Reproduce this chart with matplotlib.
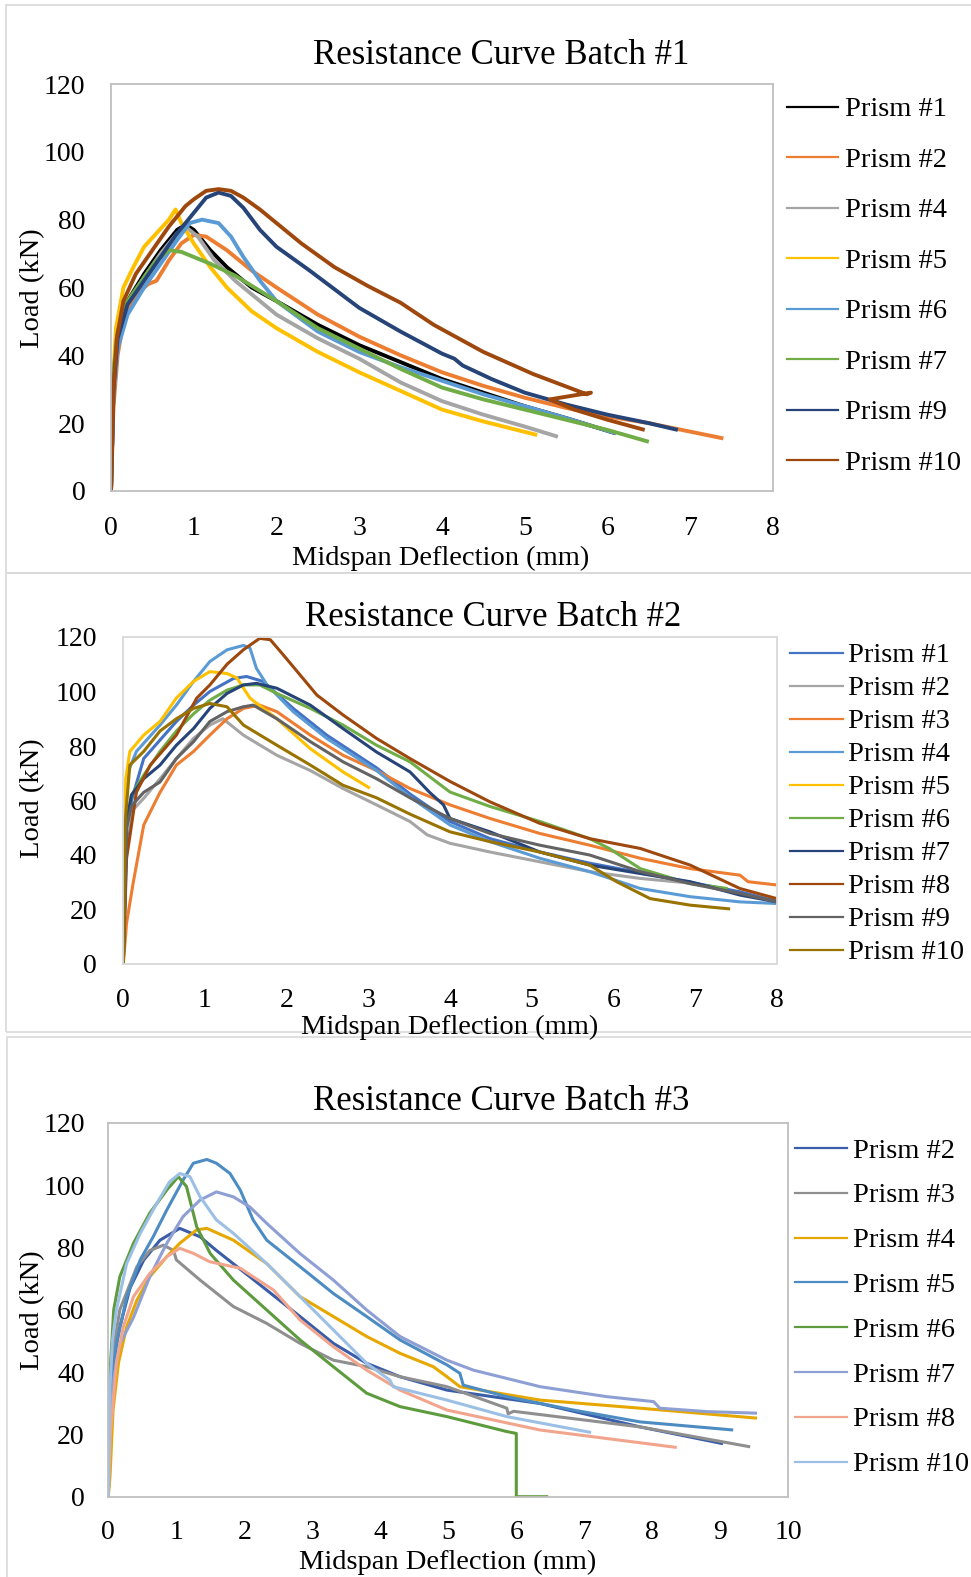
import matplotlib
matplotlib.use("Agg")
import matplotlib.pyplot as plt
from matplotlib.lines import Line2D
from matplotlib.patches import Rectangle

plt.rcParams['font.family'] = ['Liberation Serif', 'DejaVu Serif']

W, H = 971, 1577

# ---------------- Batch #1 ----------------
b1_labels = ["Prism #1", "Prism #2", "Prism #4", "Prism #5", "Prism #6", "Prism #7", "Prism #9", "Prism #10"]
b1_colors = ["#000000", "#ED7D31", "#A5A5A5", "#FFC000", "#5B9BD5", "#70AD47", "#264478", "#9E480E"]
b1_x = [
    [0, 0.03, 0.08, 0.2, 0.4, 0.6, 0.8, 0.9, 1.0, 1.2, 1.4, 1.7, 2.0, 2.5, 3.0, 3.5, 4.0, 4.5, 5.0, 5.5, 6.1],
    [0, 0.03, 0.08, 0.15, 0.3, 0.45, 0.55, 0.7, 0.85, 1.0, 1.15, 1.4, 1.7, 2.0, 2.5, 3.0, 3.5, 4.0, 4.5, 5.0, 5.5, 6.0, 6.5, 7.0, 7.4],
    [0, 0.03, 0.08, 0.2, 0.4, 0.6, 0.8, 0.92, 1.05, 1.25, 1.5, 2.0, 2.5, 3.0, 3.5, 4.0, 4.5, 5.0, 5.4],
    [0, 0.02, 0.06, 0.15, 0.27, 0.4, 0.55, 0.7, 0.78, 0.85, 1.0, 1.2, 1.4, 1.7, 2.0, 2.5, 3.0, 3.5, 4.0, 4.5, 5.15],
    [0, 0.03, 0.08, 0.2, 0.4, 0.6, 0.8, 0.95, 1.1, 1.3, 1.45, 1.6, 1.8, 2.0, 2.5, 3.0, 3.5, 4.0, 4.5, 5.0, 5.5, 6.1],
    [0, 0.03, 0.08, 0.2, 0.4, 0.55, 0.7, 0.85, 1.0, 1.2, 1.5, 2.0, 2.5, 3.0, 3.5, 4.0, 4.5, 5.0, 5.5, 6.0, 6.5],
    [0, 0.03, 0.08, 0.2, 0.4, 0.6, 0.8, 1.0, 1.15, 1.3, 1.45, 1.6, 1.8, 2.0, 2.4, 2.7, 3.0, 3.5, 4.0, 4.15, 4.25, 4.6, 5.0, 5.5, 6.0, 6.5, 6.85],
    [0, 0.03, 0.07, 0.15, 0.3, 0.5, 0.7, 0.9, 1.0, 1.15, 1.3, 1.45, 1.6, 1.8, 2.0, 2.3, 2.7, 3.1, 3.5, 3.9, 4.5, 5.1, 5.75, 5.8, 5.3, 5.6, 6.0, 6.45],
]
b1_y = [
    [0, 30, 45, 56, 64, 71, 77, 78.5, 77, 71, 66, 60, 56, 49, 43, 38, 33, 29, 25, 21.5, 17],
    [0, 25, 40, 50, 58, 61, 62, 68, 73, 75.5, 75, 71, 65, 60, 52, 45.5, 40, 35, 31, 27.5, 24.5, 22, 20, 17.5, 15.5],
    [0, 30, 45, 55, 63, 70, 76, 77.5, 75, 68, 62, 52, 45, 39, 32, 26.5, 22.5, 19, 16],
    [0, 30, 48, 60, 66, 72, 76, 80, 83, 79, 73, 66, 60, 53, 48, 41, 35, 29.5, 24, 20.5, 16.5],
    [0, 28, 42, 52, 60, 67, 74, 79, 80, 79, 75, 69, 62, 56, 47, 41, 36.5, 32.5, 28.5, 25, 21.5, 17],
    [0, 35, 47, 56, 63, 68, 71, 70.5, 69, 67, 63.5, 56, 48, 42, 36, 30.5, 27, 24, 21, 18, 14.5],
    [0, 30, 45, 55, 62, 69, 76, 82, 86.5, 88, 87, 83.5, 77, 72, 65, 59.5, 54, 47, 40.5, 39, 37, 33, 29, 25.5, 22.5, 20, 18],
    [0, 30, 45, 56, 64, 71, 78, 84, 86, 88.5, 89, 88.5, 86.5, 83, 79, 73, 66, 60.5, 55.5, 49, 41, 34.5, 28.5, 29, 27, 24, 21, 18],
]

# ---------------- Batch #2 ----------------
b2_labels = ["Prism #1", "Prism #2", "Prism #3", "Prism #4", "Prism #5", "Prism #6", "Prism #7", "Prism #8", "Prism #9", "Prism #10"]
b2_colors = ["#4472C4", "#A5A5A5", "#ED7D31", "#5B9BD5", "#FFC000", "#70AD47", "#264478", "#9E480E", "#636363", "#997300"]
b2_x = [
    [0, 0.04, 0.1, 0.25, 0.65, 0.86, 1.06, 1.35, 1.51, 1.71, 2.08, 2.49, 3.1, 3.51, 4.0, 4.49, 5.1, 5.71, 6.33, 6.94, 7.55, 8.0],
    [0, 0.04, 0.1, 0.25, 0.45, 0.65, 0.86, 1.06, 1.22, 1.47, 1.88, 2.29, 2.69, 3.1, 3.51, 3.72, 4.0, 4.49, 5.1, 5.71, 6.33, 7.0],
    [0, 0.04, 0.12, 0.25, 0.45, 0.65, 0.86, 1.06, 1.27, 1.47, 1.67, 1.88, 2.29, 2.69, 3.1, 3.51, 4.0, 4.49, 5.1, 5.71, 6.33, 6.94, 7.55, 7.65, 8.0],
    [0, 0.04, 0.16, 0.45, 0.65, 0.86, 1.06, 1.27, 1.47, 1.55, 1.63, 1.76, 2.08, 2.49, 3.1, 3.51, 4.0, 4.49, 5.1, 5.71, 6.33, 6.94, 7.55, 8.0],
    [0, 0.03, 0.08, 0.25, 0.45, 0.65, 0.86, 1.06, 1.27, 1.39, 1.55, 1.88, 2.29, 2.69, 3.02],
    [0, 0.04, 0.1, 0.25, 0.45, 0.65, 0.86, 1.06, 1.27, 1.47, 1.67, 1.88, 2.29, 2.69, 3.1, 3.51, 4.0, 4.49, 5.1, 5.71, 5.95, 6.33, 6.94, 7.4],
    [0, 0.04, 0.1, 0.25, 0.45, 0.65, 0.86, 1.06, 1.27, 1.47, 1.63, 1.88, 2.29, 2.69, 3.1, 3.51, 3.75, 3.92, 4.0, 4.49, 5.1, 5.71, 6.33, 6.94, 7.55, 8.0],
    [0, 0.04, 0.16, 0.33, 0.65, 0.9, 1.06, 1.27, 1.47, 1.67, 1.8, 1.96, 2.37, 2.69, 3.1, 3.51, 4.0, 4.49, 5.1, 5.71, 6.33, 6.94, 7.55, 8.0],
    [0, 0.04, 0.1, 0.25, 0.45, 0.65, 0.86, 1.06, 1.27, 1.47, 1.59, 1.88, 2.29, 2.69, 3.1, 3.51, 4.0, 4.49, 5.1, 5.71, 6.33, 6.94, 7.55, 8.0],
    [0, 0.02, 0.08, 0.25, 0.45, 0.65, 0.86, 1.06, 1.27, 1.47, 1.88, 2.29, 2.69, 3.1, 3.51, 4.0, 4.49, 5.1, 5.71, 6.04, 6.45, 6.94, 7.43],
]
b2_y = [
    [0, 45, 60, 75.4, 89, 95, 100, 104.8, 105.5, 103.7, 93.8, 84, 72, 62.4, 52.3, 46, 41.1, 37, 33.5, 30, 26.5, 23],
    [0, 48, 56, 60.8, 68, 75.4, 82.8, 87.7, 90, 84, 76.6, 71, 64.4, 58.4, 52.3, 47.4, 44.3, 41.1, 37.5, 33.9, 31.4, 29.5],
    [0, 15, 29.6, 51, 63, 73, 78, 84, 90, 93.8, 95, 92.6, 84, 76.6, 71, 64.4, 58.4, 53.4, 47.9, 43.6, 38.8, 35, 32.6, 30.2, 29],
    [0, 69, 78, 87.7, 95, 103.7, 111, 115.3, 116.9, 116, 108.5, 102.4, 92.6, 82.8, 71, 61.3, 51, 44.9, 38.8, 33.9, 27.7, 24.7, 22.8, 22.2],
    [0, 68, 78, 84, 89, 97.6, 103.7, 107.3, 106.6, 105, 97.6, 90, 79, 70.5, 64.5],
    [0, 52, 62, 69.3, 78, 85.5, 91.8, 96.8, 100.5, 102.4, 102.4, 99.3, 93.8, 87.7, 80.3, 74.2, 63.1, 57.8, 52.3, 46, 42.4, 35, 29.5, 27.7],
    [0, 52, 62, 68, 73, 80.3, 86.4, 93.8, 99.3, 102.4, 103, 101.2, 95, 86.4, 77.8, 70.5, 63, 58.4, 53.4, 48.5, 41.1, 36.3, 33.2, 30.2, 25.3, 22.8],
    [0, 38.8, 63, 73, 84, 97.6, 102.4, 110, 115.3, 119.5, 119, 113.4, 98.7, 91.4, 82.8, 75.4, 67, 59.5, 51.6, 46, 42.4, 36.3, 27.7, 24],
    [0, 50, 58, 63, 66.8, 75.4, 81.6, 89, 92.6, 94.4, 95, 90, 81.6, 74.2, 68, 61, 53.4, 47.9, 43.6, 40, 33.9, 29.5, 25.9, 22.8],
    [0, 51, 73, 78, 85.5, 90, 93.8, 95.6, 94.4, 87.7, 80.3, 73, 65.6, 61, 55, 48.5, 44.9, 41.1, 36.3, 30.2, 24, 21.6, 20.2],
]

# ---------------- Batch #3 ----------------
b3_labels = ["Prism #2", "Prism #3", "Prism #4", "Prism #5", "Prism #6", "Prism #7", "Prism #8", "Prism #10"]
b3_colors = ["#3A5DA9", "#8F8F8F", "#E6A800", "#4D8CC2", "#5E9B3E", "#8E9FD4", "#F2A58D", "#9CC0E5"]
b3_x = [
    [0, 0.025, 0.08, 0.17, 0.32, 0.52, 0.76, 1.05, 1.35, 1.59, 2.08, 2.82, 3.31, 3.8, 4.29, 4.98, 6.35, 7.82, 9.04],
    [0, 0.025, 0.08, 0.17, 0.42, 0.61, 0.81, 0.96, 1.0, 1.35, 1.84, 2.33, 2.82, 3.31, 3.8, 4.29, 4.98, 5.86, 5.88, 5.96, 7.82, 9.44],
    [0, 0.025, 0.07, 0.15, 0.27, 0.42, 0.61, 0.86, 1.05, 1.3, 1.45, 1.84, 2.33, 2.82, 3.31, 3.8, 4.29, 4.78, 4.98, 5.17, 6.35, 7.82, 9.54],
    [0, 0.025, 0.12, 0.27, 0.47, 0.66, 0.86, 1.1, 1.25, 1.45, 1.59, 1.79, 1.94, 2.13, 2.33, 2.82, 3.31, 3.8, 4.29, 4.98, 5.17, 5.22, 5.86, 6.84, 7.82, 9.19],
    [0, 0.025, 0.08, 0.17, 0.37, 0.61, 0.86, 1.03, 1.15, 1.3, 1.5, 1.84, 2.33, 2.82, 3.31, 3.8, 4.29, 4.98, 5.86, 6.0, 6.0, 6.47],
    [0, 0.025, 0.08, 0.17, 0.37, 0.61, 0.86, 1.1, 1.35, 1.59, 1.84, 2.08, 2.33, 2.82, 3.31, 3.8, 4.29, 4.98, 5.37, 6.35, 7.33, 8.02, 8.11, 8.8, 9.54],
    [0, 0.03, 0.12, 0.22, 0.37, 0.61, 0.86, 1.05, 1.25, 1.49, 1.94, 2.43, 2.82, 3.31, 3.8, 4.29, 4.98, 6.35, 8.36],
    [0, 0.025, 0.06, 0.12, 0.27, 0.47, 0.71, 0.9, 1.05, 1.2, 1.35, 1.59, 1.84, 2.33, 2.82, 3.31, 3.8, 4.14, 4.19, 4.98, 5.86, 7.1],
]
b3_y = [
    [0, 28, 44, 54.5, 67, 75.9, 82.3, 86.1, 83.4, 79, 70.6, 57.8, 49.2, 42.8, 38.5, 34.2, 29.9, 22.4, 17],
    [0, 28, 48, 60, 73.8, 79, 80.7, 79, 76, 69.5, 61, 55.6, 49.2, 43.8, 41.7, 38.5, 35.3, 28.4, 26.6, 27.4, 22.4, 16],
    [0, 6.4, 27.8, 43, 54.5, 63, 70.6, 77, 81.3, 85.6, 86.1, 82.3, 74.8, 64.2, 57.8, 51.4, 46, 41.7, 38.5, 35.3, 31, 28.4, 25.2],
    [0, 30, 49, 64, 76, 83.4, 92, 101.6, 107, 108.2, 107, 103.7, 98.4, 88.8, 82.3, 73.8, 65.2, 57.8, 50.3, 42.3, 39.6, 35.8, 32.1, 27.8, 24, 21.4],
    [0, 40, 60, 70.6, 81.3, 91, 98.4, 102.7, 99.5, 86.6, 78, 69.5, 59.9, 50.3, 41.7, 33.2, 28.9, 25.7, 20.9, 20.3, 0, 0],
    [0, 20, 38, 49, 57.5, 70.6, 81.3, 89.9, 95.2, 97.8, 96.2, 93, 87.7, 78, 69.5, 59.9, 51.4, 43.8, 40.6, 35.3, 32.1, 30.5, 28.4, 27.3, 26.8],
    [0, 20, 43, 54.5, 64.2, 71.6, 77, 79.7, 78.1, 75.4, 73.3, 66.3, 56.7, 48.1, 40.6, 34.2, 27.8, 21.4, 15.8],
    [0, 35, 50, 60, 74.8, 84.5, 94, 101, 103.7, 102.7, 96.2, 88.8, 84.5, 74.8, 64.2, 53.5, 42.8, 37.4, 35.3, 31, 25.7, 20.6],
]

fig = plt.figure(figsize=(W / 100, H / 100), dpi=100)


def fx(px):
    return px / W


def fy(py):
    return 1 - py / H


# panel frames
for (x0, y0, x1, y1) in [(6, 5, 990, 573), (6, 573, 990, 1032), (7, 1037, 990, 1600)]:
    fig.add_artist(Rectangle((fx(x0), fy(y1)), fx(x1 - x0), (y1 - y0) / H,
                             transform=fig.transFigure, fill=False,
                             edgecolor="#D9D9D9", lw=1.2, zorder=0))

panels = [
    dict(box=(111, 84, 773, 491), xmax=8, xs=b1_x, ys=b1_y, labels=b1_labels, colors=b1_colors,
         lw=2.8, spine="#BFBFBF", title="Resistance Curve Batch #1", title_xy=(501, 56),
         xlabel_xy=(441, 558), ylabel_xy=(33, 288), ypad=18.5, xpad=18,
         leg_line=(787, 838), leg_text=845, leg_y0=106.7, leg_dy=50.5),
    dict(box=(123.3, 637, 776.7, 964), xmax=8, xs=b2_x, ys=b2_y, labels=b2_labels, colors=b2_colors,
         lw=2.2, spine="#D9D9D9", title="Resistance Curve Batch #2", title_xy=(493, 617),
         xlabel_xy=(450, 1027), ylabel_xy=(33, 798), ypad=19, xpad=17.5,
         leg_line=(790, 843), leg_text=848, leg_y0=652.7, leg_dy=33),
    dict(box=(108.3, 1122.7, 788.3, 1496.7), xmax=10, xs=b3_x, ys=b3_y, labels=b3_labels, colors=b3_colors,
         lw=2.2, spine="#BFBFBF", title="Resistance Curve Batch #3", title_xy=(501, 1101),
         xlabel_xy=(448, 1562), ylabel_xy=(33, 1310), ypad=17, xpad=16.5,
         leg_line=(795, 847), leg_text=853, leg_y0=1148, leg_dy=44.8),
]

for p in panels:
    x0, y0, x1, y1 = p["box"]
    ax = fig.add_axes([fx(x0), fy(y1), (x1 - x0) / W, (y1 - y0) / H])
    for xs, ys, c in zip(p["xs"], p["ys"], p["colors"]):
        ax.plot(xs, ys, color=c, lw=p["lw"], solid_joinstyle="round", solid_capstyle="butt")
    ax.set_xlim(0, p["xmax"])
    ax.set_ylim(0, 120)
    ax.set_xticks(range(0, p["xmax"] + 1))
    ax.set_yticks(range(0, 121, 20))
    ax.tick_params(length=0, labelsize=20)
    ax.tick_params(axis="y", pad=p["ypad"])
    ax.tick_params(axis="x", pad=p["xpad"])
    for s in ax.spines.values():
        s.set_color(p["spine"])
        s.set_linewidth(1.3)
    fig.text(fx(p["title_xy"][0]), fy(p["title_xy"][1]), p["title"], fontsize=25,
             ha="center", va="center")
    fig.text(fx(p["xlabel_xy"][0]), fy(p["xlabel_xy"][1]), "Midspan Deflection (mm)",
             fontsize=20.5, ha="center", va="center")
    fig.text(fx(p["ylabel_xy"][0]), fy(p["ylabel_xy"][1]), "Load (kN)", fontsize=20.5,
             ha="center", va="center", rotation=90)
    la, lb = p["leg_line"]
    for i, (lab, c) in enumerate(zip(p["labels"], p["colors"])):
        yy = p["leg_y0"] + i * p["leg_dy"]
        fig.add_artist(Line2D([fx(la), fx(lb)], [fy(yy), fy(yy)], transform=fig.transFigure,
                              color=c, lw=1.6))
        fig.text(fx(p["leg_text"]), fy(yy), lab, fontsize=20.5, ha="left", va="center_baseline")

fig.savefig("out.png", dpi=100)
